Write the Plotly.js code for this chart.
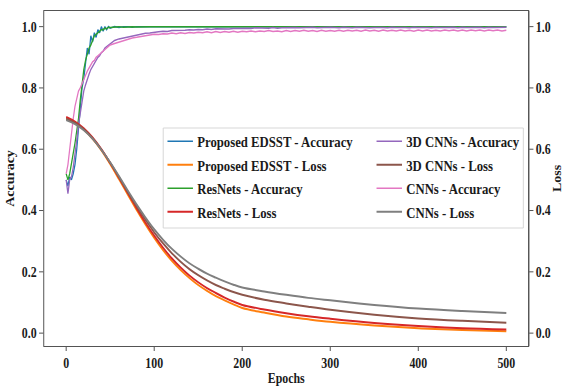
<!DOCTYPE html>
<html>
<head>
<meta charset="utf-8">
<script src="https://cdn.plot.ly/plotly-3.0.1.min.js"></script>
<style>
  html, body { margin: 0; padding: 0; background: #fff; }
  #wrap { width: 564px; height: 388px; overflow: hidden; }
  #chart { width: 664px; height: 388px; transform: scaleX(0.8494); transform-origin: 0 0; }
</style>
</head>
<body>
<div id="wrap"><div id="chart"></div></div>
<script>
// ---------- data ----------
const accEpochs = [0,2,4,6,8,10,12,14,16,18,20,22,24,26,28,30,32,34,36,38,40,42,44,46,48,50,
  55,60,65,70,75,80,85,90,95,100,105,110,115,120,125,130,135,140,145,150,155,160,165,170,175,180,185,190,195,200,
  205,210,215,220,225,230,235,240,245,250,255,260,265,270,275,280,285,290,295,300,
  305,310,315,320,325,330,335,340,345,350,355,360,365,370,375,380,385,390,395,400,
  405,410,415,420,425,430,435,440,445,450,455,460,465,470,475,480,485,490,495,500];

const edsstAcc = [0.50,0.48,0.51,0.50,0.52,0.55,0.60,0.66,0.72,0.80,0.83,0.88,0.93,0.91,0.97,0.95,0.98,0.965,0.99,0.98,1.0,0.985,1.0,0.99,1.0,0.995,
  1.0,0.997,1.0,1.0,0.998,1.0,1.0,1.0,0.998,1.0,1.0,1.0,0.999,1.0,1.0,1.0,1.0,0.999,1.0,1.0,1.0,1.0,1.0,0.999,1.0,1.0,1.0,1.0,1.0,1.0,
  1.0,1.0,0.999,1.0,1.0,1.0,1.0,1.0,1.0,1.0,0.999,1.0,1.0,1.0,1.0,1.0,1.0,1.0,1.0,1.0,
  1.0,1.0,1.0,0.999,1.0,1.0,1.0,1.0,1.0,1.0,1.0,1.0,1.0,1.0,0.999,1.0,1.0,1.0,1.0,1.0,
  1.0,1.0,1.0,1.0,1.0,0.999,1.0,1.0,1.0,1.0,1.0,1.0,1.0,1.0,1.0,1.0,1.0,1.0,1.0,1.0];

const resnetAcc = [0.52,0.50,0.52,0.55,0.58,0.62,0.66,0.70,0.76,0.82,0.86,0.89,0.91,0.93,0.94,0.955,0.97,0.975,0.98,0.985,0.99,0.99,0.995,0.993,0.998,0.997,
  0.999,1.0,0.998,1.0,1.0,0.999,1.0,1.0,1.0,1.0,0.999,1.0,1.0,1.0,1.0,1.0,0.999,1.0,1.0,1.0,1.0,1.0,1.0,1.0,1.0,1.0,1.0,1.0,1.0,1.0,
  1.0,1.0,1.0,1.0,1.0,1.0,1.0,1.0,1.0,1.0,1.0,1.0,1.0,1.0,1.0,1.0,1.0,1.0,1.0,1.0,
  1.0,1.0,1.0,1.0,1.0,1.0,1.0,1.0,1.0,1.0,1.0,1.0,1.0,1.0,1.0,1.0,1.0,1.0,1.0,1.0,
  1.0,1.0,1.0,1.0,1.0,1.0,1.0,1.0,1.0,1.0,1.0,1.0,1.0,1.0,1.0,1.0,1.0,1.0,1.0,1.0];

const cnn3dAcc = [0.50,0.455,0.50,0.51,0.54,0.58,0.63,0.68,0.72,0.76,0.79,0.81,0.83,0.845,0.86,0.87,0.88,0.89,0.90,0.905,0.915,0.92,0.93,0.935,0.94,0.945,
  0.955,0.960,0.963,0.968,0.970,0.974,0.975,0.978,0.979,0.982,0.983,0.985,0.984,0.987,0.987,0.989,0.988,0.990,0.989,0.991,0.990,0.992,0.991,0.993,0.992,0.993,0.992,0.994,0.993,0.994,
  0.995,0.994,0.996,0.995,0.996,0.995,0.997,0.995,0.996,0.997,0.996,0.997,0.996,0.997,0.996,0.998,0.996,0.997,0.996,0.998,
  0.997,0.996,0.998,0.997,0.996,0.998,0.997,0.998,0.996,0.997,0.998,0.997,0.996,0.998,0.997,0.998,0.997,0.996,0.998,0.997,
  0.998,0.997,0.996,0.998,0.997,0.998,0.997,0.998,0.996,0.998,0.997,0.998,0.997,0.998,0.996,0.998,0.997,0.998,0.997,0.998];

const cnnAcc = [0.52,0.55,0.60,0.66,0.70,0.74,0.77,0.79,0.80,0.815,0.83,0.845,0.855,0.865,0.875,0.885,0.89,0.90,0.905,0.91,0.915,0.92,0.925,0.93,0.935,0.94,
  0.945,0.950,0.955,0.958,0.963,0.965,0.968,0.970,0.972,0.975,0.974,0.977,0.976,0.979,0.977,0.980,0.978,0.981,0.979,0.982,0.980,0.983,0.980,0.984,0.981,0.984,0.982,0.985,0.982,0.985,
  0.983,0.986,0.983,0.986,0.984,0.987,0.984,0.986,0.983,0.987,0.984,0.987,0.985,0.988,0.985,0.987,0.984,0.988,0.985,0.987,
  0.985,0.988,0.985,0.988,0.986,0.988,0.985,0.989,0.986,0.988,0.985,0.989,0.986,0.988,0.986,0.989,0.986,0.988,0.985,0.989,
  0.986,0.989,0.986,0.988,0.986,0.989,0.987,0.989,0.986,0.989,0.986,0.989,0.987,0.989,0.986,0.989,0.987,0.989,0.986,0.988];

const lossEpochs = [0,10,20,30,40,50,60,70,80,90,100,110,120,130,140,150,160,170,180,190,200,225,250,275,300,350,400,450,500];
const edsstLoss  = [0.700,0.686,0.664,0.634,0.596,0.551,0.502,0.452,0.402,0.355,0.311,0.271,0.236,0.206,0.180,0.157,0.138,0.121,0.107,0.094,0.082,0.067,0.054,0.045,0.037,0.025,0.016,0.010,0.006];
const resnetLoss = [0.705,0.690,0.668,0.638,0.600,0.555,0.507,0.457,0.408,0.361,0.318,0.279,0.244,0.214,0.188,0.166,0.147,0.131,0.116,0.103,0.092,0.077,0.065,0.055,0.047,0.033,0.023,0.016,0.012];
const cnn3dLoss  = [0.700,0.686,0.665,0.636,0.599,0.556,0.509,0.461,0.414,0.370,0.329,0.293,0.261,0.233,0.209,0.189,0.172,0.157,0.145,0.134,0.125,0.109,0.097,0.086,0.076,0.060,0.048,0.040,0.034];
const cnnLoss    = [0.695,0.682,0.662,0.634,0.598,0.557,0.512,0.465,0.420,0.378,0.339,0.305,0.275,0.250,0.228,0.210,0.194,0.181,0.169,0.158,0.149,0.136,0.125,0.115,0.107,0.092,0.080,0.072,0.066];

const xTicks = [0,100,200,300,400,500];
const yTicks = [0.0,0.2,0.4,0.6,0.8,1.0];

// ---------- chart ----------
const C = {blue:'#1f77b4', orange:'#ff7f0e', green:'#2ca02c', red:'#d62728',
           purple:'#9467bd', brown:'#8c564b', pink:'#e377c2', gray:'#7f7f7f'};

function acc(name, y, color, leg, rank) {
  return {x: accEpochs, y: y, name: name, type: 'scatter', mode: 'lines', yaxis: 'y',
          line: {color: color, width: 1.5}, legend: leg, legendrank: rank, legendgroup: name};
}
function loss(name, y, color, leg, rank) {
  return {x: lossEpochs, y: y, name: name, type: 'scatter', mode: 'lines', yaxis: 'y2',
          line: {color: color, width: 2, shape: 'spline'}, legend: leg, legendrank: rank, legendgroup: name};
}

const traces = [
  acc('Proposed EDSST - Accuracy', edsstAcc, C.blue, 'legend', 1),
  acc('ResNets - Accuracy', resnetAcc, C.green, 'legend', 3),
  acc('3D CNNs - Accuracy', cnn3dAcc, C.purple, 'legend2', 1),
  acc('CNNs - Accuracy', cnnAcc, C.pink, 'legend2', 3),
  loss('Proposed EDSST - Loss', edsstLoss, C.orange, 'legend', 2),
  loss('ResNets - Loss', resnetLoss, C.red, 'legend', 4),
  loss('3D CNNs - Loss', cnn3dLoss, C.brown, 'legend2', 2),
  loss('CNNs - Loss', cnnLoss, C.gray, 'legend2', 4)
];

const serif = 'Liberation Serif, Times New Roman, serif';
const tickFont = {family: serif, size: 14, color: '#1a1a1a', weight: 'bold'};
const titleFont = {family: serif, size: 14, color: '#1a1a1a', weight: 'bold'};
const legFont = {family: serif, size: 15, color: '#1a1a1a', weight: 'bold'};
const yRange = [-0.042, 1.051];

const legBase = {yanchor: 'top', xanchor: 'left', orientation: 'v', bgcolor: 'rgba(0,0,0,0)',
                 borderwidth: 0, font: legFont, traceorder: 'grouped', tracegroupgap: 1};

const layout = {
  width: 664, height: 388,
  margin: {l: 52, r: 42, t: 11, b: 42},
  paper_bgcolor: '#fff', plot_bgcolor: '#fff',
  showlegend: true,
  xaxis: {
    range: [-25, 525], tickvals: xTicks, ticks: 'outside', ticklen: 4, tickcolor: '#444',
    showline: true, linecolor: '#444', linewidth: 1, mirror: true, showgrid: false, zeroline: false,
    tickfont: tickFont, title: {text: 'Epochs', font: titleFont, standoff: 3}
  },
  yaxis: {
    range: yRange, tickvals: yTicks, tickformat: '.1f', ticks: 'outside', ticklen: 5, tickcolor: '#444',
    showline: true, linecolor: '#444', linewidth: 1, mirror: true, showgrid: false, zeroline: false,
    tickfont: tickFont, title: {text: 'Accuracy', font: titleFont, standoff: 5}
  },
  yaxis2: {
    range: yRange, tickvals: yTicks, tickformat: '.1f', ticks: 'outside', ticklen: 5, tickcolor: '#444',
    overlaying: 'y', side: 'right', showline: true, linecolor: '#444', linewidth: 1,
    showgrid: false, zeroline: false,
    tickfont: tickFont, title: {text: 'Loss', font: titleFont, standoff: 5}
  },
  legend: Object.assign({}, legBase, {x: 0.2459, y: 0.6597}),
  legend2: Object.assign({}, legBase, {x: 0.6777, y: 0.6597}),
  shapes: [{
    type: 'rect', xref: 'paper', yref: 'paper', x0: 0.2459, x1: 0.9897, y0: 0.3522, y1: 0.6507,
    line: {color: '#d4d4d4', width: 1}, fillcolor: 'rgba(255,255,255,0.9)', layer: 'above'
  }]
};

Plotly.newPlot('chart', traces, layout, {displayModeBar: false, staticPlot: true});
</script>
</body>
</html>
